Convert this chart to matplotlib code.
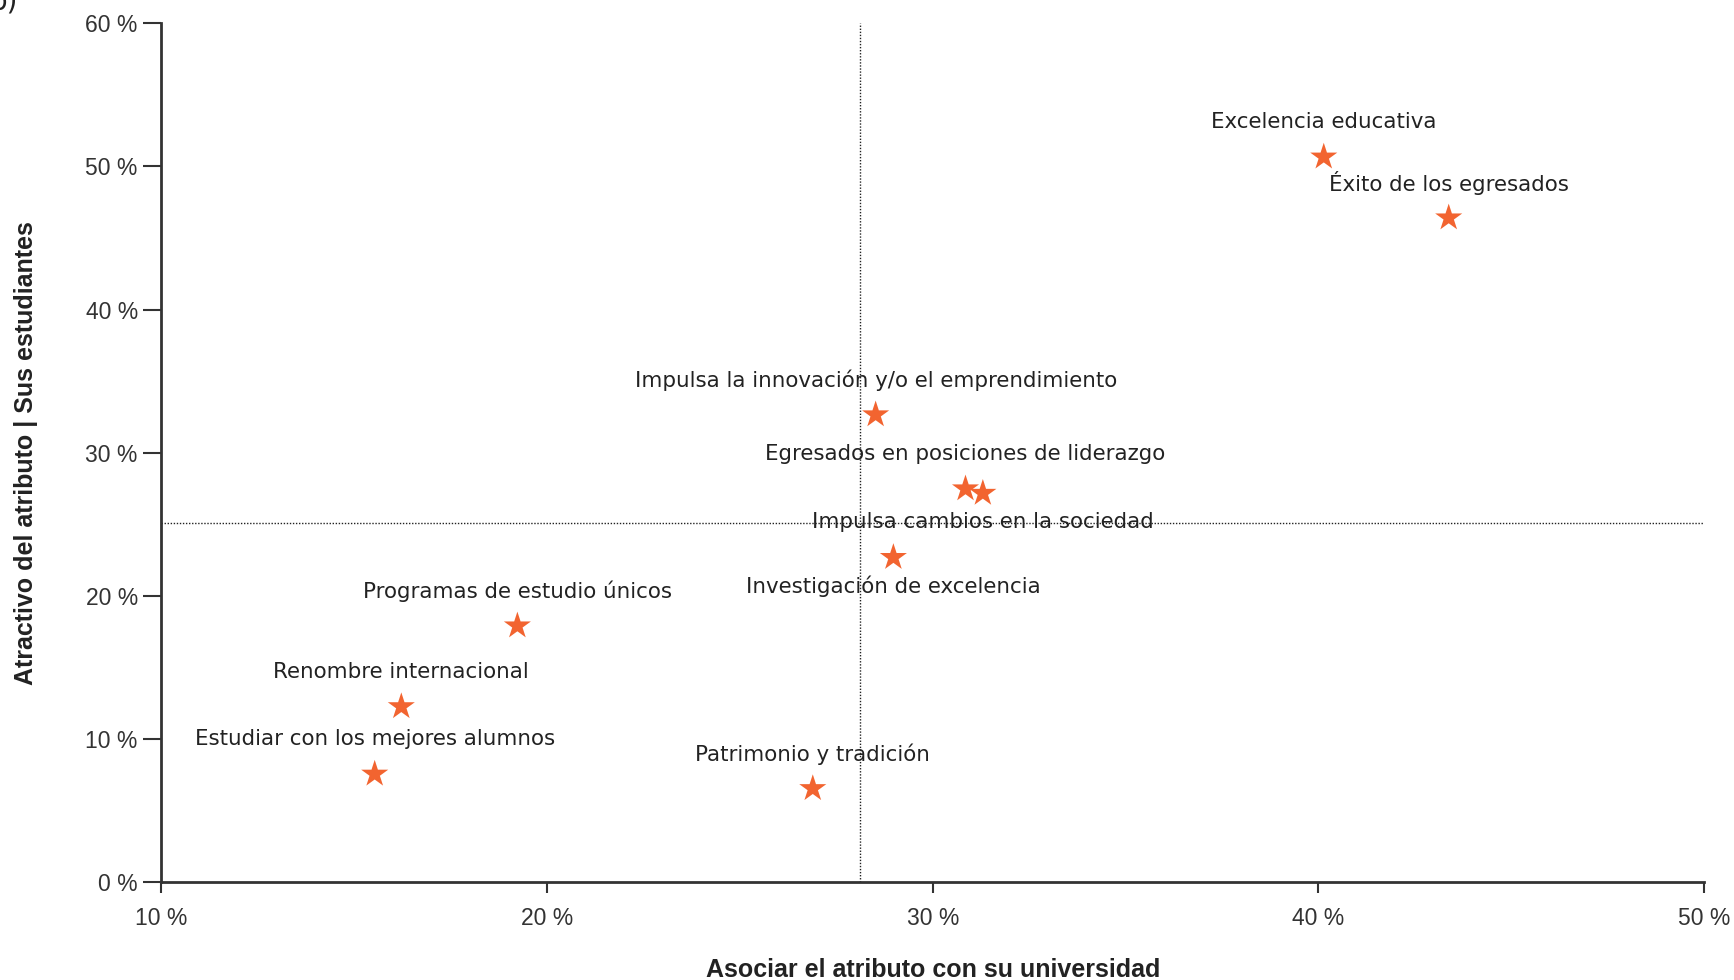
import matplotlib
matplotlib.use("Agg")
import matplotlib.pyplot as plt

# attribute labels and their positions (percent)
labels = [
    "Excelencia educativa",
    "Éxito de los egresados",
    "Impulsa la innovación y/o el emprendimiento",
    "Egresados en posiciones de liderazgo",
    "Impulsa cambios en la sociedad",
    "Investigación de excelencia",
    "Programas de estudio únicos",
    "Renombre internacional",
    "Estudiar con los mejores alumnos",
    "Patrimonio y tradición",
]
asociar = [40.14, 43.38, 28.52, 30.85, 31.30, 28.98, 19.23, 16.22, 15.53, 26.89]
atractivo = [50.66, 46.41, 32.66, 27.49, 27.18, 22.70, 17.92, 12.28, 7.57, 6.56]
label_below = [False, False, False, False, True, True, False, False, False, False]

mean_x = 28.12
mean_y = 25.1

x_ticks = [10, 20, 30, 40, 50]
y_ticks = [0, 10, 20, 30, 40, 50, 60]

STAR = "#F26430"
INK = "#333333"
NARROW = ["Liberation Sans Narrow", "Liberation Sans", "DejaVu Sans"]

fig = plt.figure(figsize=(17.34, 9.80), dpi=100)
ax = fig.add_axes([0.0931, 0.0995, 0.8896, 0.8768])

ax.axvline(mean_x, color="#222222", linestyle=(0, (1, 1.2)), linewidth=1.0, zorder=1)
ax.axhline(mean_y, color="#222222", linestyle=(0, (1, 1.2)), linewidth=1.0, zorder=1)

ax.scatter(asociar, atractivo, marker="*", s=420, color=STAR, edgecolors="none", zorder=3)

for lab, x, y, below in zip(labels, asociar, atractivo, label_below):
    dy = -21 if below else 25
    ax.annotate(lab, (x, y), xytext=(0, dy), textcoords="offset points",
                ha="center", va="center", fontsize=15.4, color="#222222",
                family="DejaVu Sans", zorder=4)

ax.set_xlim(10, 50)
ax.set_ylim(0, 60)
ax.set_xticks(x_ticks)
ax.set_yticks(y_ticks)
ax.set_xticklabels([f"{v} %" for v in x_ticks])
ax.set_yticklabels([f"{v} %" for v in y_ticks])

for side in ("top", "right"):
    ax.spines[side].set_visible(False)
for side in ("left", "bottom"):
    ax.spines[side].set_color(INK)
    ax.spines[side].set_linewidth(2)

ax.tick_params(axis="y", length=13, width=1.5, color=INK, labelsize=16.5,
               labelcolor=INK, pad=4)
ax.tick_params(axis="x", length=8, width=1.5, color=INK, labelsize=16.5,
               labelcolor=INK, pad=10)
for t in ax.get_xticklabels() + ax.get_yticklabels():
    t.set_family(NARROW)

ax.set_xlabel("Asociar el atributo con su universidad", fontsize=18,
              fontweight="bold", color="#222222", labelpad=20, family=NARROW)
ax.set_ylabel("Atractivo del atributo | Sus estudiantes", fontsize=18,
              fontweight="bold", color="#222222", labelpad=34, family=NARROW)

fig.text(-0.006, 0.998, "b)", fontsize=20, color="#222222", ha="left", va="center")

fig.savefig("out.png", dpi=100)
